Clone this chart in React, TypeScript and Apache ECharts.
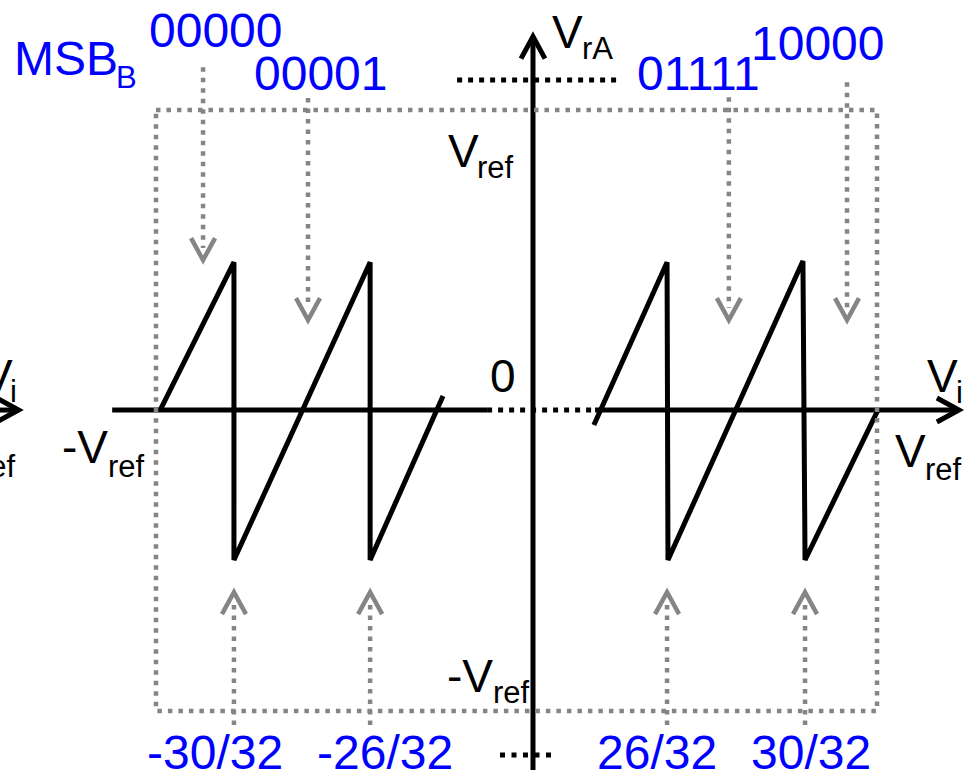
import React, { useEffect, useRef } from "react";
import * as echarts from "echarts";

// Schematic coordinates: y in units of Vref, x in the same visual unit, origin at the axes crossing.
const X_MIN = -1.777;
const X_MAX = 1.447;
const Y_MIN = -1.2;
const Y_MAX = 1.367;

// Residue transfer curve, left and right windows
const sawLeft: number[][] = [
  [-1.243, 0], [-0.997, 0.493], [-0.997, -0.5], [-0.543, 0.493], [-0.543, -0.5], [-0.3, 0.047],
];
const sawRight: number[][] = [
  [0.203, -0.05], [0.447, 0.493], [0.45, -0.5], [0.9, 0.497], [0.907, -0.5], [1.15, 0],
];

// Axes (solid parts, broken parts, and the stub of the neighbouring plot)
const hAxisLeft = [[-1.403, 0], [-0.153, 0]];
const hAxisBreak = [[-0.153, 0], [0.207, 0]];
const hAxisRight = [[0.207, 0], [1.42, 0]];
const vAxis = [[0, Y_MIN], [0, 1.245]];
const leftStub = [[X_MIN, 0], [-1.715, 0]];
const topEllipsis = [[-0.253, 1.1], [0.283, 1.1]];
const bottomEllipsis = [[-0.11, -1.15], [0.08, -1.15]];
const axisArrowTips = [[1.42, 0], [0, 1.245], [-1.715, 0]];
const axisArrowDirs = ["right", "up", "right"];

// Full-scale box (+/- Vref)
const fullScaleBox = [[-1.257, 1], [1.147, 1], [1.147, -1.003], [-1.257, -1.003], [-1.257, 1]];

// Pointer arrows: [x, start y, tip y]
const codePointers = [[-1.1, 1.143, 0.5], [-0.75, 1.04, 0.3], [0.653, 1.043, 0.3], [1.047, 1.093, 0.3]];
const thresholdPointers = [[-0.997, -1.05, -0.607], [-0.543, -1.05, -0.607], [0.447, -1.05, -0.607], [0.907, -1.05, -0.607]];

// Texts
const codeLabels = ["00000", "00001", "01111", "10000"];
const thresholdLabels = ["-30/32", "-26/32", "26/32", "30/32"];

const BLUE = "#0000ff";
const GRAY = "#858585";
const BLACK = "#000000";
const FONT = '"Liberation Sans", Arial, sans-serif';
const BIG = 46;
const BLUE_SIZE = 48;
const SUB = 31;

function seg(data: number[][], width: number, color: string, dash: any, z: number) {
  return {
    type: "line",
    data,
    symbol: "none",
    silent: true,
    clip: false,
    z,
    lineStyle: { color, width, type: dash, cap: "butt", join: "bevel" },
  };
}

function txt(text: string, left: number, baseline: number, size: number, color: string) {
  return {
    type: "text",
    x: left,
    y: baseline - 0.35 * size,
    z: 100,
    silent: true,
    style: {
      text,
      fill: color,
      fontSize: size,
      fontFamily: FONT,
      textAlign: "left",
      textVerticalAlign: "middle",
      align: "left",
      verticalAlign: "middle",
    },
  };
}

function pointerSeries(data: number[][]) {
  return {
    type: "custom",
    data,
    encode: { x: 0, y: [1, 2] },
    clip: false,
    silent: true,
    z: 6,
    renderItem: (_params: any, api: any) => {
      const x = api.value(0);
      const a = api.coord([x, api.value(1)]);
      const b = api.coord([x, api.value(2)]);
      const d = Math.sign(b[1] - a[1]);
      return {
        type: "group",
        children: [
          {
            type: "line",
            shape: { x1: a[0], y1: a[1], x2: b[0], y2: b[1] - d * 12 },
            style: { stroke: GRAY, lineWidth: 4.5, lineDash: [4.5, 6], fill: null },
          },
          {
            type: "polyline",
            shape: { points: [[b[0] - 12, b[1] - d * 22], [b[0], b[1]], [b[0] + 12, b[1] - d * 22]] },
            style: { stroke: GRAY, lineWidth: 4.5, fill: null, lineJoin: "miter" },
          },
        ],
      };
    },
  };
}

const arrowHeads = {
  type: "custom",
  data: axisArrowTips,
  encode: { x: 0, y: 1 },
  clip: false,
  silent: true,
  z: 4,
  renderItem: (params: any, api: any) => {
    const p = api.coord([api.value(0), api.value(1)]);
    const dir = axisArrowDirs[params.dataIndex];
    const pts =
      dir === "right"
        ? [[p[0] - 22, p[1] - 12], [p[0], p[1]], [p[0] - 22, p[1] + 12]]
        : [[p[0] - 12, p[1] + 22], [p[0], p[1]], [p[0] + 12, p[1] + 22]];
    return {
      type: "polyline",
      shape: { points: pts },
      style: { stroke: BLACK, lineWidth: 5, fill: null, lineJoin: "miter" },
    };
  },
};

const graphics = [
  txt("MSB", 14, 75, BLUE_SIZE, BLUE),
  txt("B", 116, 88, SUB, BLUE),
  txt(codeLabels[0], 149, 47, BLUE_SIZE, BLUE),
  txt(codeLabels[1], 254, 90, BLUE_SIZE, BLUE),
  txt(codeLabels[2], 637, 90, BLUE_SIZE, BLUE),
  txt(codeLabels[3], 751, 60, BLUE_SIZE, BLUE),
  txt(thresholdLabels[0], 147, 769, BLUE_SIZE, BLUE),
  txt(thresholdLabels[1], 317, 769, BLUE_SIZE, BLUE),
  txt(thresholdLabels[2], 597, 769, BLUE_SIZE, BLUE),
  txt(thresholdLabels[3], 751, 769, BLUE_SIZE, BLUE),
  txt("V", 552, 48, BIG, BLACK),
  txt("rA", 582, 59, SUB, BLACK),
  txt("V", 448, 167, BIG, BLACK),
  txt("ref", 477, 178, SUB, BLACK),
  txt("0", 490, 392, BIG, BLACK),
  txt("-V", 62, 463, BIG, BLACK),
  txt("ref", 108, 477, SUB, BLACK),
  txt("V", 927, 392, BIG, BLACK),
  txt("i", 956, 403, SUB, BLACK),
  txt("V", 895, 467, BIG, BLACK),
  txt("ref", 925, 480, SUB, BLACK),
  txt("-V", 447, 692, BIG, BLACK),
  txt("ref", 493, 703, SUB, BLACK),
  txt("V", -18, 392, BIG, BLACK),
  txt("i", 10, 402, SUB, BLACK),
  txt("ref", -21, 477, SUB, BLACK),
];

const option = {
  animation: false,
  backgroundColor: "#ffffff",
  grid: { left: 0, right: 0, top: 0, bottom: 0, containLabel: false },
  xAxis: { type: "value", min: X_MIN, max: X_MAX, show: false },
  yAxis: { type: "value", min: Y_MIN, max: Y_MAX, show: false },
  graphic: graphics,
  series: [
    seg(hAxisLeft, 5, BLACK, "solid", 2),
    seg(hAxisBreak, 5, BLACK, [5, 6], 2),
    seg(hAxisRight, 5, BLACK, "solid", 2),
    seg(vAxis, 5, BLACK, "solid", 2),
    seg(leftStub, 5, BLACK, "solid", 2),
    seg(topEllipsis, 5, BLACK, [5, 6], 2),
    seg(bottomEllipsis, 5, BLACK, [5, 6.5], 2),
    seg(sawLeft, 5, BLACK, "solid", 3),
    seg(sawRight, 5, BLACK, "solid", 3),
    arrowHeads,
    seg(fullScaleBox, 4.5, GRAY, [4.5, 6], 5),
    pointerSeries(codePointers),
    pointerSeries(thresholdPointers),
  ],
};

export default function App() {
  const ref = useRef<HTMLDivElement>(null);
  useEffect(() => {
    const chart = echarts.init(ref.current!, null, { renderer: "svg" });
    chart.setOption(option as any);
    return () => chart.dispose();
  }, []);
  return (
    <div
      ref={ref}
      style={{ position: "absolute", left: 0, top: 0, width: 967, height: 770, background: "#fff" }}
    />
  );
}
